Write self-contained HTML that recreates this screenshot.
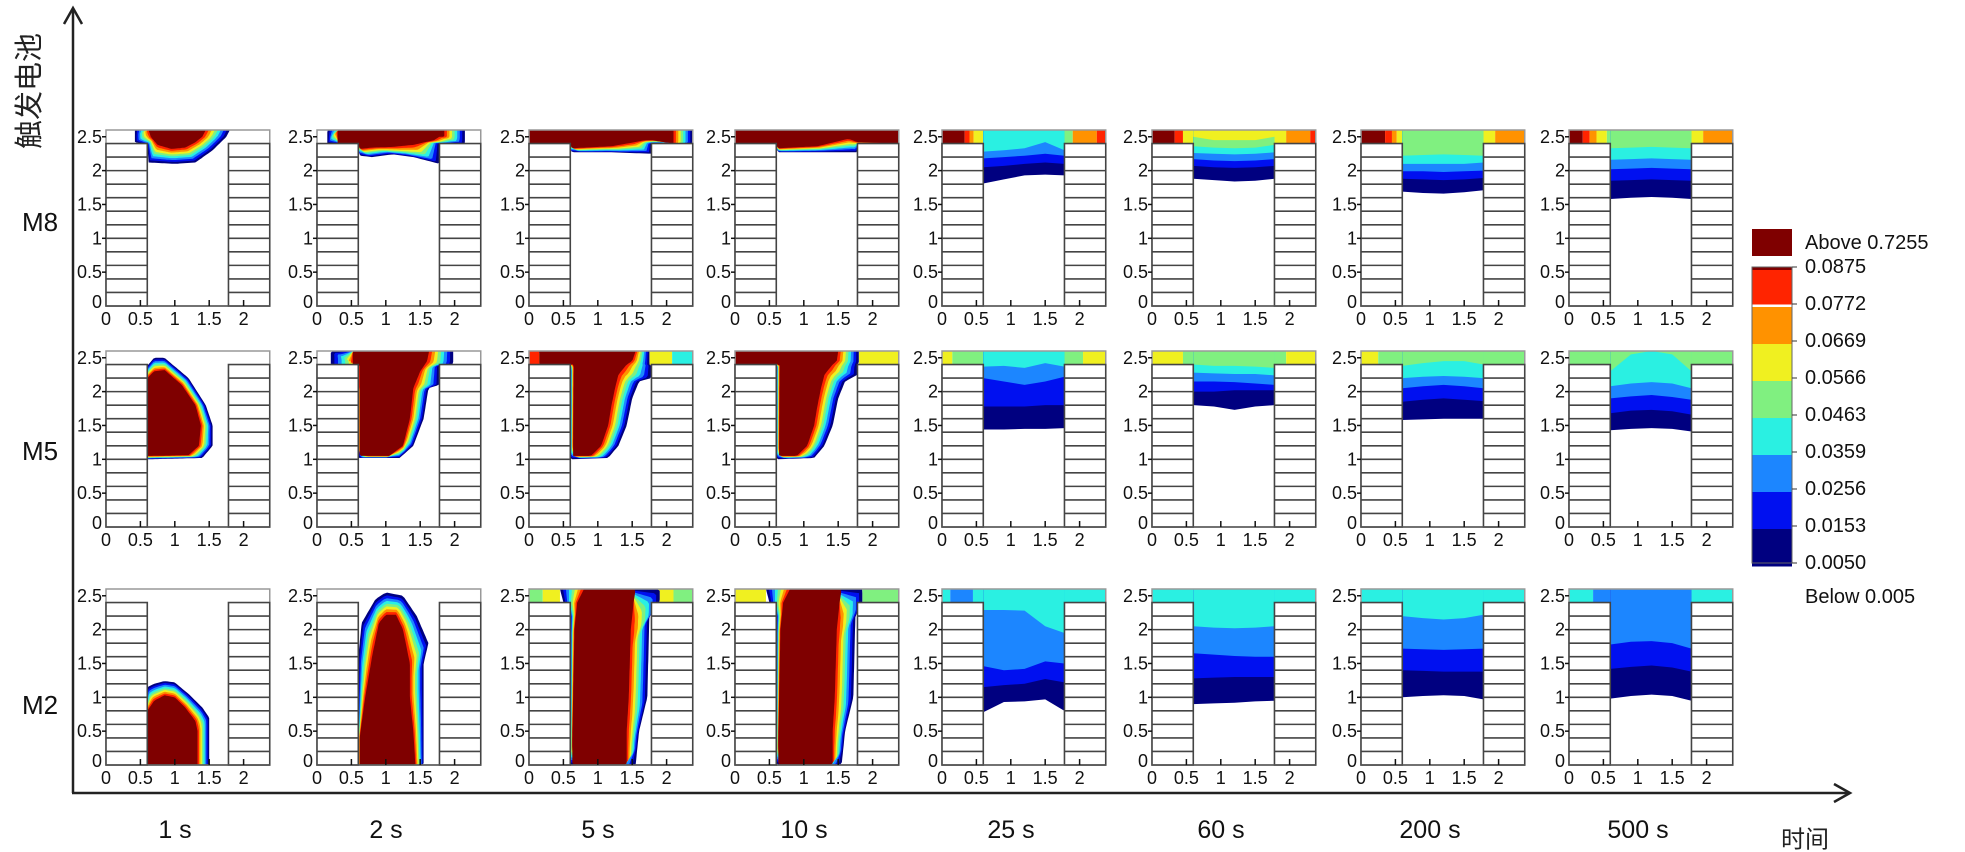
<!DOCTYPE html>
<html><head><meta charset="utf-8">
<style>
html,body{margin:0;padding:0;background:#fff;}
svg{display:block;}
text{font-family:"Liberation Sans","Noto Sans CJK SC",sans-serif;}
</style></head>
<body>
<svg id="fig" width="1965" height="852" viewBox="0 0 1965 852" xmlns="http://www.w3.org/2000/svg">
  <g id="panels"></g>
  <g>
    <line x1="73" y1="10" x2="73" y2="793" stroke="#222" stroke-width="2.5"/>
    <polyline points="64,24 73,8 82,24" fill="none" stroke="#222" stroke-width="2.5"/>
    <line x1="72" y1="793" x2="1848" y2="793" stroke="#222" stroke-width="2.5"/>
    <polyline points="1834,784 1850,793 1834,802" fill="none" stroke="#222" stroke-width="2.5"/>
    <text x="30" y="91" font-size="29" text-anchor="middle" dominant-baseline="central" transform="rotate(-90 30 91)" fill="#222">触发电池</text>
    <text x="1805" y="840" font-size="24" text-anchor="middle" dominant-baseline="central" fill="#222">时间</text>
  </g>
  <g id="legend"></g>
</svg>
<script>
const NS='http://www.w3.org/2000/svg';
const COLORS=['#000080','#0010f0','#1c86ff','#2af0e2','#80f080','#f0f020','#ff9200','#ff2400','#7f0000'];
const rowLabels=['M8','M5','M2'];
const timeLabels=['1 s','2 s','5 s','10 s','25 s','60 s','200 s','500 s'];
const legendLabels=['0.0875','0.0772','0.0669','0.0566','0.0463','0.0359','0.0256','0.0153','0.0050'];
const xTicks=[0,0.5,1,1.5,2];
const yTicks=[0,0.5,1,1.5,2,2.5];
const xs=[0.6,0.9,1.2,1.5,1.78];

/* ---- M8 row ---- */
const m8_1s_outer=[[1.8,2.6],[1.75,2.5],[1.55,2.3],[1.3,2.12],[1.0,2.1],[0.62,2.12],[0.6,2.38],[0.42,2.42],[0.42,2.6]];
const m8_1s_core=[[1.45,2.6],[1.4,2.5],[1.3,2.42],[1.15,2.34],[0.95,2.32],[0.75,2.38],[0.65,2.5],[0.62,2.6],[0.62,2.6]];
const m8_2s_outer=[[2.15,2.6],[2.15,2.4],[1.78,2.4],[1.78,2.1],[1.4,2.2],[1.1,2.24],[0.8,2.2],[0.62,2.22],[0.6,2.4],[0.15,2.4],[0.15,2.6]];
const m8_2s_core=[[1.85,2.6],[1.85,2.5],[1.78,2.5],[1.7,2.45],[1.4,2.38],[1.1,2.35],[0.8,2.34],[0.62,2.32],[0.6,2.4],[0.3,2.4],[0.3,2.6]];
const m8_5s_outer=[[2.38,2.6],[2.38,2.4],[1.78,2.4],[1.78,2.25],[1.2,2.27],[0.62,2.27],[0.6,2.4],[0,2.4],[0,2.6]];
const m8_5s_core=[[2.1,2.6],[2.1,2.4],[1.78,2.45],[1.7,2.45],[1.2,2.36],[0.62,2.33],[0.6,2.4],[0,2.4],[0,2.6]];
const m8_10s_outer=[[2.38,2.6],[2.38,2.4],[1.78,2.4],[1.78,2.27],[1.2,2.27],[0.62,2.27],[0.6,2.4],[0,2.4],[0,2.6]];
const m8_10s_core=[[2.38,2.6],[2.38,2.4],[1.78,2.42],[1.65,2.47],[1.2,2.36],[0.62,2.33],[0.6,2.4],[0,2.4],[0,2.6]];
const m8_25s_strip=[[0,0.33,8],[0.33,0.4,7],[0.4,0.46,6],[0.46,0.6,5],[1.78,1.9,4],[1.9,2.25,6],[2.25,2.38,7]];
const m8_25s_layers=[{c:0,y:[1.81,1.87,1.93,1.94,1.93]},{c:1,y:[2.05,2.07,2.1,2.12,2.1]},{c:2,y:[2.18,2.2,2.22,2.25,2.22]},{c:3,y:[2.28,2.3,2.33,2.42,2.3]}];
const m8_60s_strip=[[0,0.33,8],[0.33,0.45,7],[0.45,0.6,5],[1.78,1.95,5],[1.95,2.3,6],[2.3,2.38,7]];
const m8_60s_layers=[{c:0,y:[1.88,1.86,1.84,1.85,1.88]},{c:1,y:[2.07,2.05,2.04,2.05,2.07]},{c:2,y:[2.17,2.15,2.14,2.15,2.17]},{c:3,y:[2.26,2.25,2.24,2.25,2.27]},{c:4,y:[2.36,2.34,2.33,2.34,2.38]},{c:5,y:[2.5,2.45,2.45,2.45,2.5]}];
const m8_200s_strip=[[0,0.35,8],[0.35,0.45,7],[0.45,0.52,6],[0.52,0.68,5],[1.78,1.95,5],[1.95,2.38,6]];
const m8_200s_layers=[{c:0,y:[1.69,1.67,1.66,1.68,1.71]},{c:1,y:[1.88,1.87,1.86,1.87,1.89]},{c:2,y:[1.99,1.99,1.98,1.99,2.0]},{c:3,y:[2.1,2.1,2.1,2.1,2.12]},{c:4,y:[2.22,2.23,2.24,2.23,2.22]}];
const m8_500s_strip=[[0,0.2,8],[0.2,0.3,7],[0.3,0.4,6],[0.4,0.55,5],[0.55,0.6,4],[1.78,1.95,5],[1.95,2.38,6]];
const m8_500s_layers=[{c:0,y:[1.58,1.6,1.61,1.6,1.58]},{c:1,y:[1.85,1.86,1.87,1.86,1.85]},{c:2,y:[2.02,2.03,2.04,2.03,2.02]},{c:3,y:[2.16,2.17,2.18,2.17,2.16]},{c:4,y:[2.33,2.34,2.35,2.34,2.33]}];

/* ---- M5 row ---- */
const m5_1s_outer=[[0.6,2.38],[0.7,2.5],[0.85,2.5],[1.2,2.2],[1.45,1.8],[1.55,1.5],[1.55,1.2],[1.4,1.02],[0.6,1.0]];
const m5_1s_core=[[0.6,2.2],[0.7,2.3],[0.85,2.32],[1.1,2.1],[1.3,1.8],[1.38,1.5],[1.35,1.2],[1.2,1.06],[0.6,1.05]];
const m5_2s_outer=[[1.98,2.6],[1.98,2.4],[1.78,2.4],[1.78,2.1],[1.62,2.05],[1.55,1.6],[1.4,1.2],[1.2,1.02],[0.6,1.02],[0.6,2.4],[0.2,2.4],[0.2,2.6]];
const m5_2s_core=[[1.63,2.6],[1.6,2.45],[1.5,2.3],[1.4,2.05],[1.35,1.6],[1.25,1.2],[1.05,1.05],[0.62,1.05],[0.62,1.6],[0.62,2.4],[0.52,2.4],[0.52,2.6]];
const m5_5s_strip=[[0,0.15,7],[1.75,2.08,5],[2.08,2.38,3]];
const m5_5s_outer=[[1.75,2.6],[1.75,2.4],[1.78,2.4],[1.78,2.2],[1.6,2.15],[1.5,1.9],[1.42,1.5],[1.3,1.2],[1.15,1.02],[0.6,1.0],[0.6,2.4],[0.15,2.4],[0.15,2.6]];
const m5_5s_core=[[1.55,2.6],[1.5,2.45],[1.42,2.4],[1.3,2.25],[1.25,2.05],[1.2,1.8],[1.15,1.5],[1.05,1.2],[0.9,1.05],[0.64,1.05],[0.65,2.4],[0.15,2.4],[0.15,2.6]];
const m5_10s_strip=[[1.8,2.38,5]];
const m5_10s_outer=[[1.8,2.6],[1.8,2.4],[1.78,2.4],[1.78,2.25],[1.6,2.15],[1.5,1.9],[1.42,1.5],[1.3,1.2],[1.15,1.02],[0.6,1.0],[0.6,2.4],[0,2.4],[0,2.6]];
const m5_10s_core=[[1.5,2.6],[1.48,2.45],[1.42,2.4],[1.3,2.25],[1.25,2.05],[1.2,1.8],[1.15,1.5],[1.05,1.2],[0.9,1.05],[0.64,1.05],[0.65,2.4],[0,2.4],[0,2.6]];
const m5_25s_strip=[[0,0.15,5],[0.15,0.6,4],[1.78,2.05,4],[2.05,2.38,5]];
const m5_25s_layers=[{c:0,y:[1.44,1.44,1.45,1.45,1.46]},{c:1,y:[1.78,1.78,1.78,1.8,1.8]},{c:2,y:[2.2,2.15,2.1,2.15,2.22]},{c:3,y:[2.37,2.38,2.35,2.42,2.37]}];
const m5_60s_strip=[[0,0.45,5],[0.45,0.6,4],[1.78,1.95,4],[1.95,2.38,5]];
const m5_60s_layers=[{c:0,y:[1.8,1.78,1.73,1.78,1.8]},{c:1,y:[2.0,2.0,2.02,2.02,2.02]},{c:2,y:[2.15,2.15,2.14,2.12,2.1]},{c:3,y:[2.28,2.27,2.26,2.26,2.24]},{c:4,y:[2.4,2.38,2.38,2.37,2.35]}];
const m5_200s_strip=[[0,0.25,5],[0.25,0.6,4],[1.78,2.38,4]];
const m5_200s_layers=[{c:0,y:[1.58,1.59,1.6,1.6,1.6]},{c:1,y:[1.85,1.88,1.9,1.88,1.86]},{c:2,y:[2.05,2.08,2.1,2.08,2.05]},{c:3,y:[2.2,2.22,2.23,2.22,2.2]},{c:4,y:[2.38,2.42,2.45,2.45,2.4]}];
const m5_500s_strip=[[0,0.6,4],[1.78,2.38,4]];
const m5_500s_layers=[{c:0,y:[1.43,1.45,1.46,1.45,1.41]},{c:1,y:[1.68,1.72,1.73,1.71,1.66]},{c:2,y:[1.9,1.93,1.95,1.92,1.88]},{c:3,y:[2.08,2.12,2.14,2.12,2.05]},{c:4,y:[2.3,2.55,2.6,2.55,2.3]}];

/* ---- M2 row ---- */
const m2_1s_outer=[[0.6,0],[0.6,1.15],[0.7,1.2],[0.85,1.24],[1.0,1.22],[1.2,1.05],[1.4,0.85],[1.5,0.7],[1.5,0]];
const m2_1s_core=[[0.6,0],[0.6,0.8],[0.7,0.95],[0.85,1.03],[1.0,1.0],[1.15,0.85],[1.3,0.65],[1.33,0.5],[1.33,0]];
const m2_2s_outer=[[0.6,0],[0.6,0.4],[0.6,1.6],[0.65,2.1],[0.85,2.45],[1.0,2.55],[1.25,2.5],[1.45,2.2],[1.62,1.8],[1.55,1.5],[1.55,0.5],[1.55,0]];
const m2_2s_core=[[0.62,0],[0.62,0.4],[0.7,1.0],[0.8,1.6],[0.9,2.1],[1.0,2.22],[1.15,2.22],[1.25,2.0],[1.35,1.5],[1.35,1.0],[1.4,0.5],[1.43,0]];
const m2_5s_strip=[[0,0.2,4],[0.2,0.45,5],[1.85,2.1,5],[2.1,2.38,4]];
const m2_5s_outer=[[0.45,2.6],[0.5,2.4],[0.6,2.2],[0.6,0.4],[0.6,0],[1.55,0],[1.6,0.5],[1.72,1.0],[1.75,2.2],[1.9,2.4],[1.9,2.6]];
const m2_5s_core=[[0.8,2.6],[0.7,2.4],[0.66,2.0],[0.63,0.4],[0.63,0],[1.42,0],[1.42,0.5],[1.45,1.0],[1.48,2.0],[1.52,2.4],[1.55,2.6]];
const m2_10s_strip=[[0,0.45,5],[1.85,2.38,4]];
const m2_10s_outer=[[0.45,2.6],[0.5,2.4],[0.6,2.2],[0.6,0.4],[0.6,0],[1.55,0],[1.6,0.5],[1.72,1.0],[1.75,2.2],[1.85,2.4],[1.85,2.6]];
const m2_10s_core=[[0.8,2.6],[0.7,2.4],[0.66,2.0],[0.63,0.4],[0.63,0],[1.42,0],[1.42,0.5],[1.45,1.0],[1.48,2.0],[1.52,2.4],[1.55,2.6]];
const m2_25s_strip=[[0,0.12,3],[0.12,0.45,2],[0.45,0.6,3],[1.78,2.38,3]];
const m2_25s_layers=[{c:0,y:[0.78,0.93,0.94,0.97,0.8]},{c:1,y:[1.15,1.18,1.2,1.27,1.22]},{c:2,y:[1.46,1.4,1.42,1.53,1.5]},{c:3,y:[2.29,2.29,2.28,2.05,1.95]}];
const m2_60s_strip=[[0,0.6,3],[1.78,2.38,3]];
const m2_60s_layers=[{c:0,y:[0.9,0.91,0.92,0.94,0.95]},{c:1,y:[1.28,1.29,1.3,1.3,1.3]},{c:2,y:[1.65,1.63,1.61,1.6,1.6]},{c:3,y:[2.05,2.03,2.02,2.03,2.05]}];
const m2_200s_strip=[[0,0.6,3],[1.78,2.38,3]];
const m2_200s_layers=[{c:0,y:[1.0,1.02,1.03,1.02,0.97]},{c:1,y:[1.4,1.39,1.38,1.38,1.38]},{c:2,y:[1.72,1.71,1.7,1.71,1.72]},{c:3,y:[2.2,2.17,2.15,2.17,2.22]}];
const m2_500s_strip=[[0,0.35,3],[0.35,0.6,2],[1.78,2.38,3]];
const m2_500s_layers=[{c:0,y:[0.98,1.02,1.04,1.02,0.95]},{c:1,y:[1.42,1.45,1.47,1.44,1.38]},{c:2,y:[1.78,1.82,1.83,1.8,1.72]}];

const panelSpecs=[
 [{o:m8_1s_outer,k:m8_1s_core},{o:m8_2s_outer,k:m8_2s_core},{o:m8_5s_outer,k:m8_5s_core},{o:m8_10s_outer,k:m8_10s_core},
  {s:m8_25s_strip,l:m8_25s_layers},{s:m8_60s_strip,l:m8_60s_layers},{s:m8_200s_strip,l:m8_200s_layers},{s:m8_500s_strip,l:m8_500s_layers}],
 [{o:m5_1s_outer,k:m5_1s_core},{o:m5_2s_outer,k:m5_2s_core},{s:m5_5s_strip,o:m5_5s_outer,k:m5_5s_core},{s:m5_10s_strip,o:m5_10s_outer,k:m5_10s_core},
  {s:m5_25s_strip,l:m5_25s_layers},{s:m5_60s_strip,l:m5_60s_layers},{s:m5_200s_strip,l:m5_200s_layers},{s:m5_500s_strip,l:m5_500s_layers}],
 [{o:m2_1s_outer,k:m2_1s_core},{o:m2_2s_outer,k:m2_2s_core},{s:m2_5s_strip,o:m2_5s_outer,k:m2_5s_core},{s:m2_10s_strip,o:m2_10s_outer,k:m2_10s_core},
  {s:m2_25s_strip,l:m2_25s_layers},{s:m2_60s_strip,l:m2_60s_layers},{s:m2_200s_strip,l:m2_200s_layers},{s:m2_500s_strip,l:m2_500s_layers}]
];

/* geometry */
const colLefts=[106,317,529,735,942,1152,1361,1569];
const rowTops=[130,351,589];
const rowLabelY=[222,451,705];
const SX=68.8, SY=176/2.6, XMAX=2.38, YMAX=2.6;

function el(tag,attrs,parent){const e=document.createElementNS(NS,tag);for(const k in attrs)e.setAttribute(k,attrs[k]);if(parent)parent.appendChild(e);return e;}
function resample(poly,N){
  const pts=poly.concat([poly[0]]);const seg=[];let tot=0;
  for(let i=0;i<pts.length-1;i++){const d=Math.hypot(pts[i+1][0]-pts[i][0],pts[i+1][1]-pts[i][1]);seg.push(d);tot+=d;}
  const out=[];
  for(let n=0;n<N;n++){let t=tot*n/N,i=0;while(i<seg.length-1&&t>seg[i]){t-=seg[i];i++;}
    const f=seg[i]?Math.min(1,t/seg[i]):0;out.push([pts[i][0]+(pts[i+1][0]-pts[i][0])*f,pts[i][1]+(pts[i+1][1]-pts[i][1])*f]);}
  return out;
}

const root=document.getElementById('panels');
panelSpecs.forEach((row,r)=>{
  const T=rowTops[r];
  const rl=el('text',{x:22,y:rowLabelY[r],'font-size':26,'dominant-baseline':'central',fill:'#111'},root);
  
  
  rl.textContent=rowLabels[r];
  row.forEach((spec,c)=>{
    const L=colLefts[c];
    const px=x=>L+x*SX, py=y=>T+(YMAX-y)*SY;
    const g=el('g',{},root);
    
    
    const id='clip'+r+'_'+c;
    const cp=el('clipPath',{id:id},g);
    const dom=[[0,2.4],[0,2.6],[XMAX,2.6],[XMAX,2.4],[1.78,2.4],[1.78,0],[0.6,0],[0.6,2.4]];
    el('polygon',{points:dom.map(p=>px(p[0])+','+py(p[1])).join(' ')},cp);
    const fill=el('g',{'clip-path':'url(#'+id+')'},g);
    
    
    (spec.s||[]).forEach(sg=>{
      const rc=el('rect',{x:px(sg[0]),y:py(2.6),width:(sg[1]-sg[0])*SX,height:0.2*SY+0.5,fill:COLORS[sg[2]]},fill);
      
      
    });
    if(spec.l){
      spec.l.forEach(ly=>{
        const pts=[[xs[0],2.6],[xs[xs.length-1],2.6]];
        for(let i=xs.length-1;i>=0;i--)pts.push([xs[i],ly.y[i]]);
        const pg=el('polygon',{points:pts.map(p=>px(p[0])+','+py(p[1])).join(' '),fill:COLORS[ly.c]},fill);
        
        
      });
    }
    if(spec.o){
      const N=120,A=resample(spec.o,N),B=resample(spec.k,N);
      for(let k=0;k<=8;k++){
        const t=k/8;
        const pts=A.map((p,i)=>[p[0]*(1-t)+B[i][0]*t,p[1]*(1-t)+B[i][1]*t]);
        const pg=el('polygon',{points:pts.map(p=>px(p[0]).toFixed(1)+','+py(p[1]).toFixed(1)).join(' '),fill:COLORS[k]},fill);
        
        
      }
    }
    // frame
    el('rect',{x:px(0),y:py(2.6),width:XMAX*SX,height:2.6*SY,fill:'none',stroke:'#999','stroke-width':1.5},g);
    // walls
    [[0,0.6],[1.78,XMAX]].forEach((w,wi)=>{
      const wg=el('g',{},g);
      
      
      el('rect',{x:px(w[0]),y:py(2.4),width:(w[1]-w[0])*SX,height:2.4*SY,fill:'#fff',stroke:'#444','stroke-width':1.6},wg);
      for(let k=1;k<12;k++){const yy=py(k*0.2);
        el('line',{x1:px(w[0]),x2:px(w[1]),y1:yy,y2:yy,stroke:'#444','stroke-width':1.6},wg);}
    });
    el('line',{x1:px(0),x2:px(XMAX),y1:py(0),y2:py(0),stroke:'#555','stroke-width':1.6},g);
    xTicks.forEach(v=>{
      if(v>0)el('line',{x1:px(v),x2:px(v),y1:py(0),y2:py(0)-6,stroke:'#111','stroke-width':1.5},g);
      const t=el('text',{x:px(v),y:py(0)+19,'font-size':18,'text-anchor':'middle',fill:'#111'},g);
      
      
      t.textContent=String(v);
    });
    yTicks.forEach(v=>{
      if(v>0)el('line',{x1:px(0)-4,x2:px(0),y1:py(v),y2:py(v),stroke:'#111','stroke-width':1.5},g);
      const t=el('text',{x:px(0)-4,y:py(v)+(v===0?2:6),'font-size':18,'text-anchor':'end',fill:'#111'},g);
      
      
      t.textContent=String(v);
    });
  });
});
timeLabels.forEach((lab,c)=>{
  const t=el('text',{x:colLefts[c]+69,y:830,'font-size':25,'text-anchor':'middle','dominant-baseline':'central',fill:'#111'},root);
  
  
  t.textContent=lab;
});
/* legend */
const lg=document.getElementById('legend');
const sw=el('rect',{x:1752,y:229,width:40,height:27,fill:COLORS[8]},lg);


const at=el('text',{x:1805,y:243,'font-size':20,'dominant-baseline':'central',fill:'#111'},lg);


at.textContent='Above 0.7255';
const CB_T=267,CB_STEP=(563-267)/8;
el('rect',{x:1752,y:CB_T,width:40,height:4,fill:COLORS[8]},lg);
for(let i=0;i<8;i++){
  const b=el('rect',{x:1752,y:CB_T+3+i*CB_STEP,width:40,height:(i===0?CB_STEP-3:CB_STEP)+0.5,fill:COLORS[7-i]},lg);
  
  
}
el('rect',{x:1752,y:CB_T,width:40,height:563-CB_T,fill:'none',stroke:'#666','stroke-width':1},lg);
legendLabels.forEach((lab,i)=>{
  const y=CB_T+i*CB_STEP;
  el('line',{x1:1792,x2:1797,y1:y,y2:y,stroke:'#333','stroke-width':1},lg);
  const t=el('text',{x:1805,y:y,'font-size':20,'dominant-baseline':'central',fill:'#111'},lg);
  
  
  t.textContent=lab;
});
const bt=el('text',{x:1805,y:597,'font-size':20,'dominant-baseline':'central',fill:'#111'},lg);


bt.textContent='Below 0.005';
</script>
</body></html>
